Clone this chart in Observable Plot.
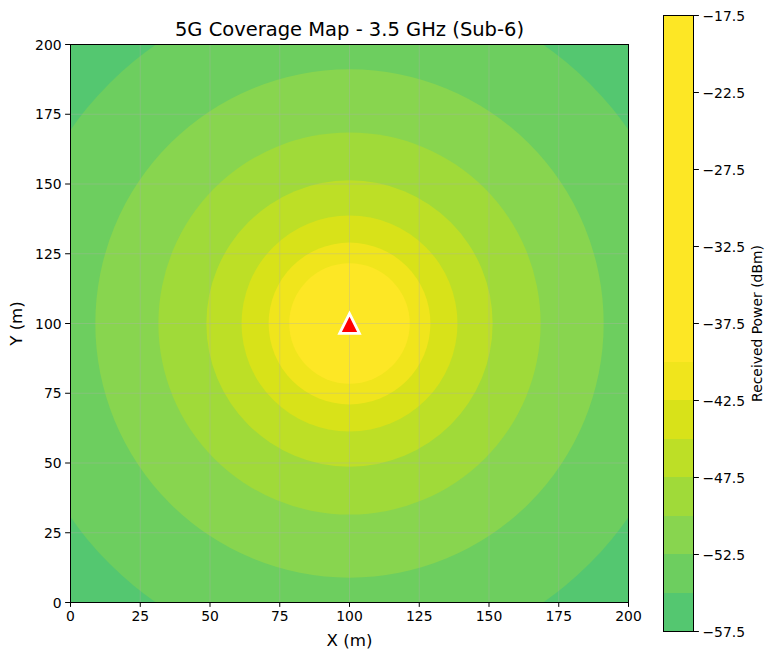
<!DOCTYPE html>
<html>
<head>
<meta charset="utf-8">
<script src="https://cdn.jsdelivr.net/npm/d3@7"></script>
<script src="https://cdn.jsdelivr.net/npm/@observablehq/plot@0.6"></script>
<style>
html,body{margin:0;padding:0;background:#fff;width:774px;height:659px;overflow:hidden}
#wrap{position:relative;width:774px;height:659px}
#main,#bar{position:absolute;top:0}
#main{left:0}
#bar{left:640px}
svg{display:block}
</style>
</head>
<body>
<div id="wrap"><div id="main"></div><div id="bar"></div></div>
<script>
const titleText = "5G Coverage Map - 3.5 GHz (Sub-6)";
const xLabel = "X (m)";
const yLabel = "Y (m)";
const barLabel = "Received Power (dBm)";

const axisTicks = [0, 25, 50, 75, 100, 125, 150, 175, 200];
const barTicks = [-57.5, -52.5, -47.5, -42.5, -37.5, -32.5, -27.5, -22.5, -17.5];

// Filled contour bands, outermost first
const bandLow  = [-57.5, -55, -52.5, -50, -47.5, -45, -42.5, -40];
const bandHigh = [-55, -52.5, -50, -47.5, -45, -42.5, -40, -17.5];
const bandRadius = [150, 121.7, 91.1, 68.5, 51.3, 38.7, 29.0, 21.6]; // metres from the site
const bandColors = ["#54c770", "#6dce5f", "#88d54f", "#a0da39", "#bddf26", "#d8e219", "#f0e51c", "#fde725"];

const siteX = [100];
const siteY = [100];

const bands = bandLow.map((low, i) => ({low, high: bandHigh[i], radius: bandRadius[i]}));
const colorScale = {type: "threshold", domain: bandLow.slice(1), range: bandColors};
const font = "'DejaVu Sans'";
const baseStyle = {fontFamily: font, fontSize: "13.9px", background: "transparent", color: "#000"};
const fmtBar = d => d.toFixed(1).replace("-", "\u2212");

// Triangle marker with equal width and height, like a matplotlib "^"
const triangle = {
  draw(ctx, size) {
    const s = Math.sqrt(size / Math.PI);
    ctx.moveTo(0, -s);
    ctx.lineTo(s, s);
    ctx.lineTo(-s, s);
    ctx.closePath();
  }
};

const main = Plot.plot({
  width: 774,
  height: 659,
  marginLeft: 70,
  marginRight: 146,
  marginTop: 44,
  marginBottom: 57,
  style: baseStyle,
  x: {domain: [0, 200]},
  y: {domain: [0, 200]},
  r: {type: "linear", domain: [0, 200], range: [0, 558]},
  color: colorScale,
  marks: [
    Plot.dot(bands, {x: () => siteX[0], y: () => siteY[0], r: "radius", fill: "low", sort: d => -d.radius, clip: true}),
    Plot.gridX(axisTicks, {stroke: "#b0b0b0", strokeOpacity: 0.35, strokeWidth: 1}),
    Plot.gridY(axisTicks, {stroke: "#b0b0b0", strokeOpacity: 0.35, strokeWidth: 1}),
    Plot.frame({stroke: "#000", strokeWidth: 1}),
    Plot.axisX(axisTicks, {label: null, tickSize: 4.9, tickPadding: 4, stroke: "#000", tickFormat: d => String(d)}),
    Plot.axisY(axisTicks, {label: null, tickSize: 4.9, tickFormat: () => "", stroke: "#000"}),
    Plot.axisY(axisTicks, {label: null, tickSize: 0, tickPadding: 8.9, dy: 0.7, tickFormat: d => String(d)}),
    Plot.dot(siteX.map((x, i) => ({x, y: siteY[i]})), {x: "x", y: "y", symbol: triangle, r: 9.9, fill: "#ff0000", stroke: "#fff", strokeWidth: 2.78, strokeLinejoin: "miter"}),
    Plot.text([titleText], {frameAnchor: "top", dy: -15, textAnchor: "middle", lineAnchor: "middle", fontSize: 19.5, fill: "#000"}),
    Plot.text([xLabel], {frameAnchor: "bottom", dy: 38, textAnchor: "middle", lineAnchor: "middle", fontSize: 16.67, fill: "#000"}),
    Plot.text([yLabel], {frameAnchor: "left", dx: -54, rotate: -90, textAnchor: "middle", lineAnchor: "middle", fontSize: 16.67, fill: "#000"})
  ]
});
document.getElementById("main").appendChild(main);

const bar = Plot.plot({
  width: 134,
  height: 659,
  marginLeft: 23,
  marginRight: 81,
  marginTop: 15,
  marginBottom: 28,
  style: baseStyle,
  x: {domain: [0, 1], axis: null},
  y: {domain: [-57.5, -17.5]},
  color: colorScale,
  marks: [
    Plot.rect(bands, {x1: () => 0, x2: () => 1, y1: "low", y2: "high", fill: "low", shapeRendering: "crispEdges"}),
    Plot.frame({stroke: "#000", strokeWidth: 1}),
    Plot.axisY(barTicks, {anchor: "right", label: null, tickSize: 4.9, tickFormat: () => "", stroke: "#000"}),
    Plot.axisY(barTicks, {anchor: "right", label: null, tickSize: 0, tickPadding: 8.9, dy: 0.7, tickFormat: fmtBar}),
    Plot.text([barLabel], {frameAnchor: "right", dx: 64, rotate: -90, textAnchor: "middle", lineAnchor: "middle", fontSize: 13.9, fill: "#000"})
  ]
});
document.getElementById("bar").appendChild(bar);
</script>
</body>
</html>
